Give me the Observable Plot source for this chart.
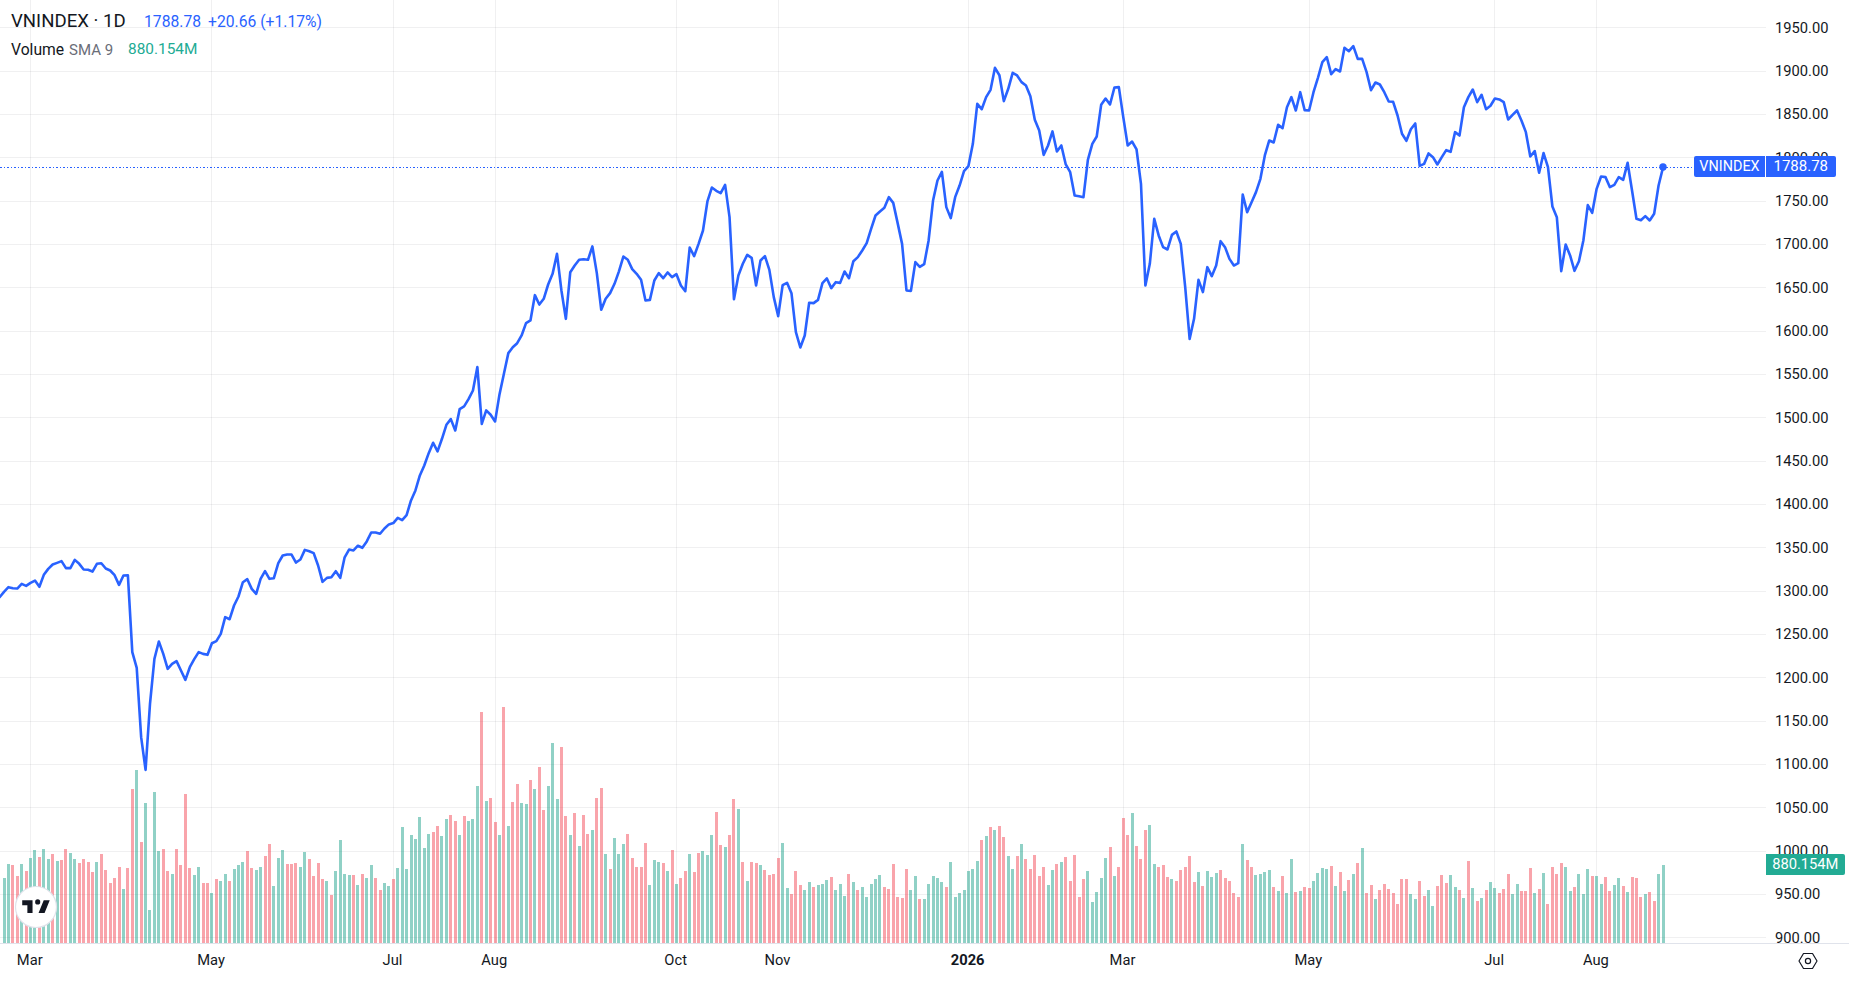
<!DOCTYPE html>
<html>
<head>
<meta charset="utf-8">
<script src="https://cdn.jsdelivr.net/npm/d3@7"></script>
<script src="https://cdn.jsdelivr.net/npm/@observablehq/plot@0.6"></script>
<style>
  html, body { margin: 0; padding: 0; background: #fff; overflow: hidden; }
  #chart { position: relative; width: 1849px; height: 984px; font-family: Roboto, sans-serif; color: #131722; }
  #chart svg.plot { display: block; }
  .o { position: absolute; white-space: pre; line-height: 1; }
  .tag { position: absolute; color: #fff; line-height: 21px; height: 21px; text-align: center; }
</style>
</head>
<body>
<div id="chart"></div>
<script>
// Closing prices; the first value sits one session before the first volume bar.
const closes = [1293,
1299.2,1304.6,1303.4,1303,1308.4,1306.1,1309.6,1312.2,1305,1318.8,
1325.7,1330.7,1332.6,1334.6,1326.5,1326.5,1336.1,1331.5,1324.9,1324.6,
1322.6,1331.5,1332.2,1326.1,1323.8,1318.4,1307.2,1318,1318.4,1229.6,
1211.5,1131.5,1093.8,1169.9,1221.9,1241.9,1227.6,1210.3,1216.1,1219.2,
1208.4,1197.6,1212.2,1221.5,1229.6,1227.6,1226.5,1239.9,1242.3,1250.7,
1270,1267.6,1283.4,1293.8,1310.3,1313.8,1302.6,1296.9,1314.2,1323,
1314.2,1314.9,1332.2,1341.1,1342.2,1342.2,1333,1336.5,1347.6,1346,
1343.8,1329.6,1310.7,1315.3,1316.1,1323,1315.3,1339,1348,1346.9,
1352.4,1350,1357.4,1367.7,1367.7,1366.2,1372.3,1377,1378.5,1384.6,
1381.9,1387.7,1404.6,1416.2,1433.5,1445,1459.2,1471.2,1461.2,1475.8,
1491.9,1498.5,1485.4,1510,1513.1,1521.5,1531.5,1558.5,1493,1508.5,
1503.5,1495.8,1527,1550.8,1574.6,1581.5,1586.1,1595,1609.2,1612.3,
1641.5,1630.7,1637.3,1653.8,1666.1,1689.2,1646.9,1614.2,1668,1675.7,
1682.3,1683,1682.3,1697.7,1666.9,1624.6,1637.3,1643.8,1654.6,1669,
1686.1,1682.3,1671.5,1666.1,1659.2,1635.4,1636.1,1658.4,1666.9,1661.1,
1667.7,1662.3,1665.7,1652.7,1646.1,1696.5,1686.5,1700.7,1716.1,1749.6,
1765.7,1761.9,1759.2,1768.8,1731.5,1636.9,1664.2,1677.7,1688,1684.6,
1652.7,1681.5,1686.5,1670.7,1639.2,1617.3,1653,1655.7,1643.8,1598.8,
1581.1,1595,1632.7,1632.3,1636.1,1655.4,1660.8,1649.6,1656.5,1655.7,
1668.8,1661.1,1680.7,1685.4,1693,1701.5,1718,1733.4,1738,1742.3,
1754.6,1748,1724.6,1700.7,1646.9,1646.5,1679.6,1674.2,1677.3,1704.6,
1750.7,1773.8,1783.8,1743.1,1730.4,1754.6,1768,1784.6,1790.4,1816.1,
1862.3,1856.1,1870,1878.4,1903.8,1895.3,1865.4,1879.6,1898,1895,
1887.3,1883.4,1871.1,1843.8,1831.5,1803.4,1814.2,1830.4,1807.3,1814.2,
1792.3,1783.4,1756.5,1755.7,1754.6,1797.7,1816.1,1824.6,1861.1,1868.4,
1861.5,1881.1,1881.5,1846.9,1814.2,1818.8,1809.6,1770,1652.7,1677.7,
1729.6,1710.4,1696.9,1694.2,1711.1,1715,1700.7,1650.7,1591.1,1614.2,
1659.2,1645,1673.8,1663.4,1675.7,1703.8,1696.9,1683.4,1675.7,1678.4,
1757.7,1737.3,1748.8,1760.4,1775.7,1802.7,1820,1817.7,1838,1834.2,
1858.4,1870,1854.6,1875.7,1855,1854.6,1875.7,1892.3,1910.4,1916.1,
1896.5,1902.3,1899.6,1926.9,1923,1928.8,1914.2,1914.2,1898.8,1878,
1886.9,1884.6,1875.7,1865,1864.6,1848.8,1827.7,1819.6,1833,1839.6,
1790.7,1793,1805,1800.7,1792.3,1800.7,1808.8,1806.9,1829.6,1825.7,
1858.4,1870,1878.8,1864.2,1872.7,1856.1,1860,1868.4,1867.3,1864.2,
1844.2,1849.6,1854.6,1843,1829.6,1801.5,1807.7,1782.7,1805.4,1789.2,
1743.8,1731.5,1669.2,1700,1687.3,1669.6,1680.7,1704.6,1745.4,1736.5,
1764.2,1778.4,1777.7,1766.1,1768.8,1777.7,1774.6,1794.2,1762.3,1729.6,
1728,1732.7,1727.7,1735.4,1768.1,1788.78];

// Daily volume in millions.
const volumesM = [
734,891,880,756,891,813,959,1049,970,1060,
947,1004,925,936,1060,1015,947,903,947,914,
801,914,1004,824,678,734,858,610,846,1734,
1947,1138,1577,375,1700,1037,1060,813,779,1060,
880,1678,846,768,858,678,678,565,723,700,
779,700,835,880,914,1037,846,824,858,981,
1116,644,959,1049,891,891,903,858,1026,947,
756,903,723,700,543,813,1161,779,768,768,
655,779,734,880,734,599,678,644,723,846,
1307,835,1217,1172,1419,1071,1228,1251,1318,1206,
1397,1442,1374,1217,1431,1374,1397,1768,2599,1599,
1633,1363,1217,2655,1318,1588,1790,1577,1565,1835,
1734,1981,1498,1768,2251,1622,2206,1431,1217,1464,
1094,1442,1228,1273,1633,1745,1004,835,1183,1004,
1116,1228,959,858,858,1127,655,936,914,903,
813,1049,667,734,813,1004,801,1015,1037,992,
1217,1476,1105,1082,1217,1622,1509,914,700,914,
903,880,824,768,779,959,1127,622,554,813,
655,599,689,633,655,667,712,745,599,667,
532,779,689,599,633,521,667,723,768,633,
610,891,521,509,835,599,756,498,498,667,
756,734,689,633,914,521,565,599,813,835,
925,1161,1206,1307,1273,1318,1195,981,835,981,
1116,947,835,992,756,858,655,824,891,914,
970,700,992,521,723,813,464,577,734,959,
1082,756,858,1408,1217,1464,1094,947,1273,1329,
891,858,880,745,723,700,824,858,981,689,
801,644,813,745,790,824,734,700,565,521,
1116,936,858,768,779,801,824,633,588,756,
565,947,577,588,633,622,700,790,846,835,
869,644,801,588,712,779,903,1071,565,655,
498,599,667,610,565,442,723,723,554,498,
700,532,599,419,644,768,678,768,633,599,
509,925,622,476,509,599,689,622,565,610,
779,554,667,588,588,846,565,610,790,442,
858,779,903,858,588,633,779,554,835,756,
756,667,745,588,655,734,644,577,745,734,
521,554,577,476,779,880.154];

// G = rising session, R = falling session, one letter per volume bar.
const sessionSides = (
"GGRRGRGGRG"+"GRGRRGGRRR"+"RGRRRRRGRR"+"GRGGGGRRGR"+"RRRGGRRGRG"+
"GRGGGRRGGR"+"RGGGRRRGGR"+"RRRGRGGGGR"+"GRGGRRGGRG"+"GGGGGGGRRG"+
"GRRGRGGGRG"+"RRGRGRRGGR"+"GRRGGGRRGR"+"GRRGRRGRGG"+"GRRRRRGGGR"+
"GRGRRGRRGG"+"GRRGRRGRGR"+"RGRRRRGGRR"+"RGGRGGGRGG"+"GRGRGGGGGR"+
"RRRRRGGRGG"+"GGGRGGGGGG"+"GRGRGRRGGR"+"GRRRRRGGRG"+"RRRRRGGGGG"+
"RGRRRGRRRG"+"GRRRGRRRRR"+"GRGGGRRRRR"+"GRRGGGGRGR"+"GGRGRRGGGG"+
"RGRGRGRGRR"+"GRRRRRRRGG"+"RRGGRRRGGR"+"GRGRGRGGRR"+"RGGRRRGRGR"+
"RRRGGRGGGR"+"GGRRGGRGRR"+"RGRRGG").split("");

// Session-index ticks on the time axis.
const timeTickSessions = [6,47,88,111,152,175,218,253,295,337,360];
const timeTickLabels = ["Mar","May","Jul","Aug","Oct","Nov","2026","Mar","May","Jul","Aug"];
const priceLevels = d3.range(900, 1951, 50);

const lastClose = 1788.78;
const lastVolumeLabel = "880.154M";
const legendChange = "+20.66 (+1.17%)";

const blue = "#2962FF", up = "#089981", down = "#F23645", ink = "#131722";
const W = 1849, H = 984;

// Scale calibration: session 0 at 3.5px, 4.424px per session; 1950 at 27.3px, 900 at 937.3px.
const xDomain = [-3.5/4.424, (W-3.5)/4.424];
const pxPerPrice = 910/1050;
const yDomain = [900 - (H-937.3)/pxPerPrice, 1950 + 27.3/pxPerPrice];
const baselinePrice = 893.1;          // bottom of the price pane
const priceUnitsPerM = (1/11.236)/pxPerPrice;   // volume overlay: 11.236M per pixel
const volTop = v => baselinePrice + v*priceUnitsPerM;
const paneRight = (1765.5-3.5)/4.424;

const line = closes.map((close, k) => ({session: k-1, close}));
const bars = volumesM.map((volume, session) => ({session, volume, side: sessionSides[session]}));
const ticks = timeTickSessions.map((session, k) => ({session, label: timeTickLabels[k]}));

const crisp = {shapeRendering: "crispEdges"};
const plot = Plot.plot({
  width: W, height: H,
  marginTop: 0, marginRight: 0, marginBottom: 0, marginLeft: 0,
  x: {type: "linear", domain: xDomain, range: [0, W], axis: null},
  y: {type: "linear", domain: yDomain, range: [H, 0], axis: null},
  style: {fontFamily: "Roboto, sans-serif", background: "#fff"},
  marks: [
    Plot.ruleY(priceLevels, {x1: xDomain[0], x2: paneRight, stroke: "#2a2e39", strokeOpacity: 0.07, strokeWidth: 1, ...crisp}),
    Plot.ruleX(timeTickSessions, {y1: baselinePrice, y2: yDomain[1], stroke: "#2a2e39", strokeOpacity: 0.07, strokeWidth: 1, ...crisp}),
    Plot.ruleX(bars.filter(d => d.side === "G"), {x: "session", y1: baselinePrice, y2: d => volTop(d.volume), stroke: up, strokeOpacity: 0.45, strokeWidth: 3, ...crisp}),
    Plot.ruleX(bars.filter(d => d.side === "R"), {x: "session", y1: baselinePrice, y2: d => volTop(d.volume), stroke: down, strokeOpacity: 0.45, strokeWidth: 3, ...crisp}),
    Plot.ruleY([baselinePrice], {stroke: "#e0e3eb", strokeWidth: 1, ...crisp}),
    Plot.ruleY([lastClose], {x1: xDomain[0], x2: (1694-3.5)/4.424, dy: -0.5, stroke: blue, strokeWidth: 1, strokeDasharray: "1.5 2", ...crisp}),
    Plot.line(line, {x: "session", y: "close", stroke: blue, strokeWidth: 2.6, strokeLinejoin: "round", curve: "linear"}),
    Plot.dot([line[line.length-1]], {x: "session", y: "close", dy: -0.5, r: 3.7, fill: blue}),
    Plot.text(priceLevels, {y: d => d, text: d => d.toFixed(2), frameAnchor: "right", textAnchor: "start", dx: -74.5, fontSize: 14.7, fill: ink}),
    Plot.text(ticks.filter(d => d.label !== "2026"), {x: "session", text: "label", frameAnchor: "bottom", dx: -0.8, dy: -19.5, fontSize: 14.7, fill: ink}),
    Plot.text(ticks.filter(d => d.label === "2026"), {x: "session", text: "label", frameAnchor: "bottom", dx: -0.8, dy: -19.5, fontSize: 14.7, fontWeight: 700, fill: ink})
  ]
});
const root = document.getElementById("chart");
root.appendChild(plot);

const y = plot.scale("y");
function addText(txt, left, center, size, color) {
  const el = document.createElement("div");
  el.className = "o";
  el.textContent = txt;
  el.style.cssText = `left:${left}px;top:${center-size/2}px;font-size:${size}px;color:${color}`;
  root.appendChild(el);
}
addText("VNINDEX · 1D", 11, 21, 18.6, ink);
addText(lastClose.toFixed(2), 144, 22, 15.7, blue);
addText(legendChange, 208, 22, 15.7, blue);
addText("Volume", 11, 50, 15.7, ink);
addText("SMA 9", 69, 50, 15, "#6a6d78");
addText(lastVolumeLabel, 128, 50, 15.4, "#22ab94");

function addTag(txt, left, width, center, bg, radius, size) {
  const el = document.createElement("div");
  el.className = "tag";
  el.textContent = txt;
  el.style.cssText = `left:${left}px;width:${width}px;top:${center-10.5}px;background:${bg};border-radius:${radius};font-size:${size}px`;
  root.appendChild(el);
}
addTag("VNINDEX", 1694, 71, y.apply(lastClose)-0.5, blue, "2px 0 0 2px", 14.4);
addTag(lastClose.toFixed(2), 1766, 69.5, y.apply(lastClose)-0.5, blue, "0 2px 2px 0", 15);
addTag(lastVolumeLabel, 1765.5, 79.5, y.apply(volTop(volumesM[volumesM.length-1])), "#22ab94", "0 2px 2px 0", 14.7);

// Logo badge and settings glyph
const logo = document.createElement("div");
logo.innerHTML = `<svg class="badge" width="44" height="44" viewBox="0 0 44 44" style="position:absolute;left:14px;top:885px">
<circle cx="22" cy="22" r="20.5" fill="#fff" stroke="#e0e3eb" stroke-width="1.2"/>
<g transform="translate(6.5,10) scale(0.86)" fill="#131722"><path d="M14 6H2v6h6v9h6V6zm14 15h-7l6-15h7l-6 15z"/><circle cx="20" cy="8" r="3"/></g></svg>
<svg class="gear" width="20" height="20" viewBox="0 0 20 20" style="position:absolute;left:1798px;top:951px">
<path d="M5.5 2.5h9L19 10l-4.5 7.5h-9L1 10z" fill="none" stroke="#131722" stroke-width="1.2" stroke-linejoin="round"/>
<circle cx="10" cy="10" r="2.6" fill="none" stroke="#131722" stroke-width="1.2"/></svg>`;
root.appendChild(logo);
</script>
</body>
</html>
